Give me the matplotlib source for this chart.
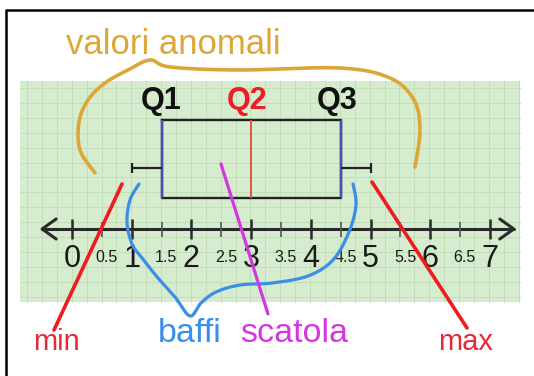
import numpy as np
import matplotlib
matplotlib.use("Agg")
import matplotlib.pyplot as plt

# ---- data ----
box_min = 1.0
box_q1 = 1.5
box_median = 3.0
box_q3 = 4.5
box_max = 5.0
major_ticks = [0, 1, 2, 3, 4, 5, 6, 7]
major_labels = ["0", "1", "2", "3", "4", "5", "6", "7"]
minor_ticks = [0.5, 1.5, 2.5, 3.5, 4.5, 5.5, 6.5]
minor_labels = ["0.5", "1.5", "2.5", "3.5", "4.5", "5.5", "6.5"]
axis_lo, axis_hi = -0.5, 7.4
q_labels = ["Q1", "Q2", "Q3"]

plt.rcParams['font.family'] = ['Liberation Sans', 'DejaVu Sans']

W, H = 534, 376
X0, UNIT = 72.0, 59.7  # layout of number line in pixels

fig = plt.figure(figsize=(W / 100, H / 100), dpi=100)

def pixel_axes(z):
    a = fig.add_axes([0, 0, 1, 1], zorder=z)
    a.set_xlim(0, W)
    a.set_ylim(H, 0)
    a.axis('off')
    return a

bg = pixel_axes(0)
ax = fig.add_axes([0, 0, 1, 1], zorder=1)
ax.set_xlim(-X0 / UNIT, (W - X0) / UNIT)
ax.set_ylim(H, 0)
ax.axis('off')
top = pixel_axes(2)

# background: green grid paper + frame
green = '#D6ECCF'
gl = '#C2DDB7'
bg.add_patch(plt.Rectangle((20, 81), 500, 221, facecolor=green, edgecolor='none'))
for gx in np.arange(27, 520, 14.9):
    bg.plot([gx, gx], [81, 302], color=gl, lw=0.7)
for gy in np.arange(88, 302, 14.9):
    bg.plot([20, 520], [gy, gy], color=gl, lw=0.7)
bg.plot([6, 6, W], [H, 9.5, 9.5], color='black', lw=1.8, solid_capstyle='butt')

# number line
lc = '#2a2a2a'
yaxis = 229
ax.plot([axis_lo, axis_hi], [yaxis, yaxis], color=lc, lw=2.2, solid_capstyle='round')
dx = 14 / UNIT
ax.plot([axis_lo + dx, axis_lo, axis_lo + dx], [yaxis - 10, yaxis, yaxis + 10], color=lc, lw=2.2,
        solid_capstyle='round', solid_joinstyle='round')
ax.plot([axis_hi - dx, axis_hi, axis_hi - dx], [yaxis - 10, yaxis, yaxis + 10], color=lc, lw=2.2,
        solid_capstyle='round', solid_joinstyle='round')
ax.vlines(major_ticks, yaxis - 10, yaxis + 10, color=lc, lw=1.8)
ax.vlines(minor_ticks, yaxis - 7.5, yaxis + 7.5, color='#555555', lw=1.2)
for v, s in zip(major_ticks, major_labels):
    ax.text(v, 259, s, ha='center', va='center', fontsize=22, color='#1a1a1a')
for v, s in zip(minor_ticks, minor_labels):
    ax.text(v + 0.08, 258, s, ha='center', va='center', fontsize=11.5, color='#1a1a1a')

# box plot
stats = [dict(med=box_median, q1=box_q1, q3=box_q3, whislo=box_min, whishi=box_max, fliers=[])]
ax.bxp(stats, positions=[159], widths=[78], orientation='horizontal', showcaps=False,
       showfliers=False, whiskerprops=dict(linewidth=0),
       boxprops=dict(color='#222222', linewidth=1.7),
       medianprops=dict(color='#E05545', linewidth=1.4))
ax.vlines([box_q1, box_q3], 120, 198, color='#4150B5', lw=1.7)
ywh = 168
ax.hlines(ywh, box_min, box_q1, color='#222222', lw=1.6)
ax.hlines(ywh, box_q3, box_max, color='#222222', lw=1.6)
ax.vlines([box_min, box_max], ywh - 5, ywh + 5, color='#222222', lw=1.6)

# annotations
def smooth(pts, n=20):
    p = np.asarray(pts, float)
    p = np.vstack([p[0], p, p[-1]])
    out = []
    for i in range(1, len(p) - 2):
        p0, p1, p2, p3 = p[i - 1], p[i], p[i + 1], p[i + 2]
        t = np.linspace(0, 1, n, endpoint=False)[:, None]
        out.append(0.5 * ((2 * p1) + (-p0 + p2) * t + (2 * p0 - 5 * p1 + 4 * p2 - p3) * t ** 2
                          + (-p0 + 3 * p1 - 3 * p2 + p3) * t ** 3))
    out.append(p[-2][None, :])
    return np.vstack(out)

gold = '#DDA737'
brace = smooth([(95, 173), (80, 150), (79, 122), (88, 100), (105, 83), (128, 70), (150, 60),
                (170, 67), (238, 70), (340, 68), (390, 78), (414, 100), (420, 130), (415, 167)])
top.plot(brace[:, 0], brace[:, 1], color=gold, lw=2.6, solid_capstyle='round')

red = '#EE1C1C'
top.plot([122, 54], [184, 330], color=red, lw=2.6, solid_capstyle='round')
top.plot([372, 467], [182, 328], color=red, lw=2.6, solid_capstyle='round')

blue = '#3A8EE6'
baffi = smooth([(139, 184), (130, 200), (127, 222), (132, 244), (142, 258), (158, 278), (175, 297),
                (190, 316), (201, 303), (216, 292), (240, 285), (272, 283), (308, 276), (333, 260),
                (349, 232), (356, 205), (353, 184)])
top.plot(baffi[:, 0], baffi[:, 1], color=blue, lw=2.3, solid_capstyle='round', solid_joinstyle='round')

mag = '#D436E0'
top.plot([221, 268], [164, 314], color=mag, lw=2.3, solid_capstyle='round')

# texts
top.text(173, 54, "valori anomali", ha='center', va='baseline', fontsize=25, color=gold)
for s, xc, col in zip(q_labels, [161, 247, 337], ['#111111', '#EE1C24', '#111111']):
    top.text(xc, 109, s, ha='center', va='baseline', fontsize=22, fontweight='bold', color=col)
top.text(56, 350, "min", ha='center', va='baseline', fontsize=21, color='#E6283A')
top.text(466, 350, "max", ha='center', va='baseline', fontsize=21, color='#E6283A')
top.text(190, 342, "baffi", ha='center', va='baseline', fontsize=24.5, color=blue)
top.text(294, 342, "scatola", ha='center', va='baseline', fontsize=24.5, color=mag)

fig.savefig("out.png", dpi=100)
